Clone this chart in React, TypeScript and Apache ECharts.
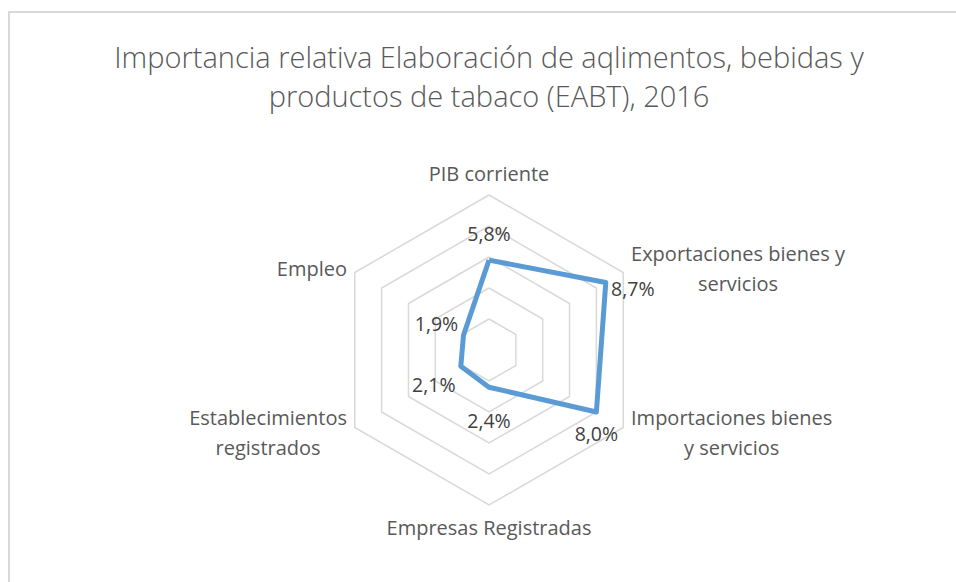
import React, { useEffect, useRef } from 'react';
import * as echarts from 'echarts';

// Indicators listed counter-clockwise from the top (ECharts radar order)
const indicators = [
  'PIB corriente',
  'Empleo',
  'Establecimientos\nregistrados',
  'Empresas Registradas',
  'Importaciones bienes\ny servicios',
  'Exportaciones bienes y\nservicios',
];
const values = [5.8, 1.9, 2.1, 2.4, 8.0, 8.7];
const axisMin = 0;
const axisMax = 10;
const splitCount = 5;
const titleText =
  'Importancia relativa Elaboración de aqlimentos, bebidas y\nproductos de tabaco (EABT), 2016';

// label offsets (style only) relative to each vertex, same order as indicators
const labelOffsets: [number, number][] = [
  [0, -27],
  [-27, -12],
  [-27, 18],
  [0, 33],
  [0, 21],
  [27, 6],
];

const FONT = "'Open Sans', 'Noto Sans', sans-serif";
const fmt = (v: number) => v.toFixed(1).replace('.', ',') + '%';

export default function App() {
  const ref = useRef<HTMLDivElement>(null);
  useEffect(() => {
    document.body.style.margin = '0';
    if (!ref.current) return;
    const chart = echarts.init(ref.current, undefined, { renderer: 'svg' });

    const labelRich: Record<string, any> = {};
    labelOffsets.forEach(([dx, dy], i) => {
      labelRich['l' + i] = {
        fontFamily: FONT,
        fontSize: 19.5,
        color: '#404040',
        padding: [dy > 0 ? 2 * dy : 0, dx < 0 ? -2 * dx : 0, dy < 0 ? -2 * dy : 0, dx > 0 ? 2 * dx : 0],
      };
    });

    const nameStyle = { align: 'center', fontFamily: FONT, fontSize: 20, color: '#595959' };

    chart.setOption({
      animation: false,
      backgroundColor: '#ffffff',
      title: {
        text: titleText,
        left: 489,
        top: 37,
        padding: 0,
        textAlign: 'center',
        textStyle: {
          fontFamily: FONT,
          fontSize: 29,
          fontWeight: 300,
          color: '#595959',
          lineHeight: 39,
        },
      },
      graphic: [
        {
          type: 'rect',
          x: 9,
          y: 12,
          silent: true,
          z: -1,
          shape: { x: 0, y: 0, width: 1000, height: 1000 },
          style: { fill: 'none', stroke: '#D9D9D9', lineWidth: 2 },
        },
      ],
      radar: {
        center: [489, 350],
        radius: 155,
        startAngle: 90,
        splitNumber: splitCount,
        shape: 'polygon',
        nameGap: 9,
        indicator: indicators.map((n) => ({ name: n, min: axisMin, max: axisMax })),
        axisName: {
          formatter: (name: string) => {
            const lines = name.split('\n');
            const st = lines.length > 1 ? 'm' : 's';
            return lines.map((s) => '{' + st + '|' + s + '}').join('\n');
          },
          rich: {
            m: { ...nameStyle, lineHeight: 30 },
            s: { ...nameStyle, lineHeight: 26 },
          },
        },
        splitLine: { lineStyle: { color: '#D9D9D9', width: 1.5 } },
        splitArea: { show: false },
        axisLine: { show: false },
        axisTick: { show: false },
        axisLabel: { show: false },
      },
      series: [
        {
          type: 'radar',
          silent: true,
          symbol: 'circle',
          symbolSize: 2,
          itemStyle: { color: 'rgba(0,0,0,0)' },
          lineStyle: { color: '#5B9BD5', width: 5, join: 'round' },
          label: {
            show: true,
            position: 'inside',
            formatter: (p: any) => {
              const i = values.indexOf(p.value);
              return '{l' + i + '|' + fmt(p.value) + '}';
            },
            rich: labelRich,
          },
          data: [{ value: values, name: 'EABT' }],
        },
      ],
    });
    return () => chart.dispose();
  }, []);
  return <div ref={ref} style={{ width: 956, height: 582 }} />;
}
